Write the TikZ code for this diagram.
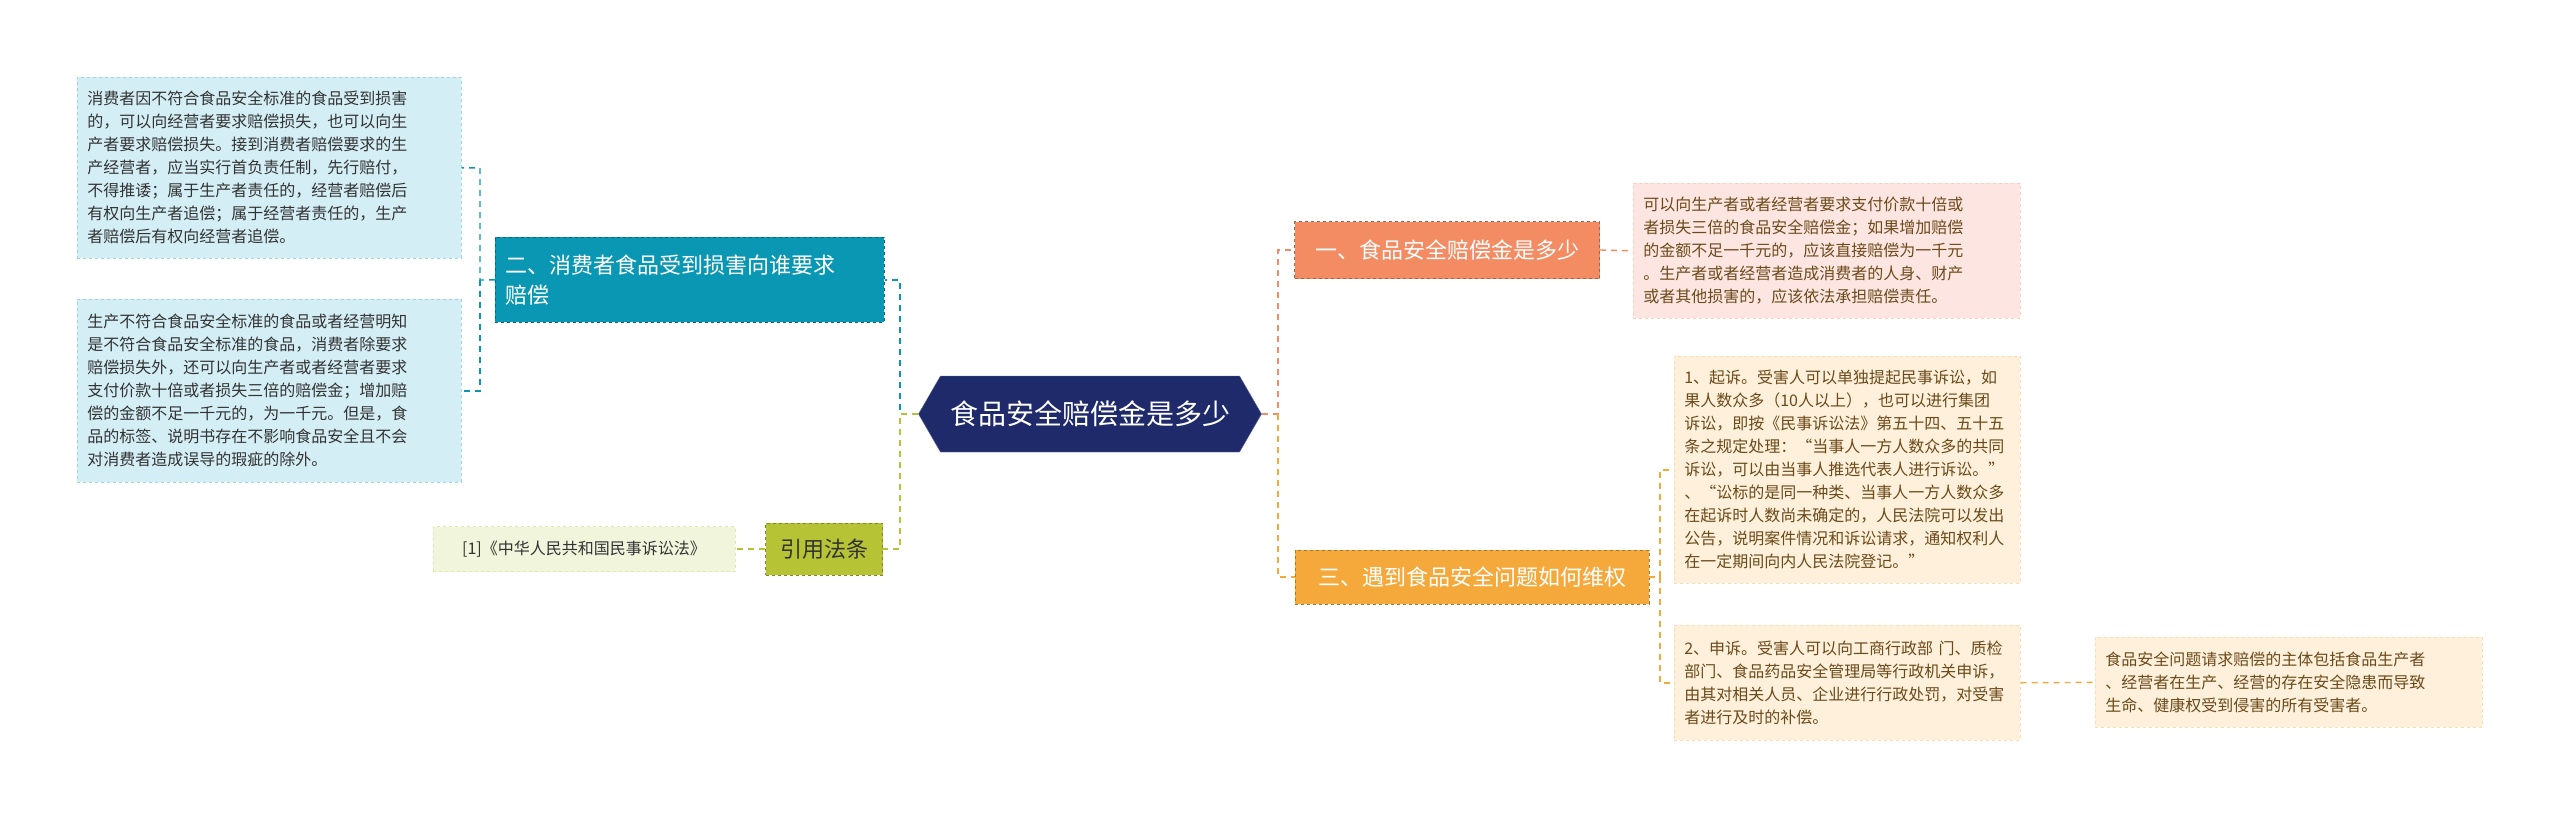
\documentclass[tikz,border=0pt]{standalone}
\usepackage{fontspec}
\setmainfont{Noto Sans CJK SC}
\usetikzlibrary{shapes.symbols}
\definecolor{navy}{HTML}{1F2A6B}
\definecolor{teal}{HTML}{0A97B4}
\definecolor{tealbg}{HTML}{D4EEF5}
\definecolor{olive}{HTML}{B5C334}
\definecolor{olivebg}{HTML}{F0F5DC}
\definecolor{salmon}{HTML}{F38B63}
\definecolor{pinkbg}{HTML}{FDE6E1}
\definecolor{orng}{HTML}{F6A93B}
\definecolor{creambg}{HTML}{FEF0DA}
\definecolor{txt}{HTML}{333333}
\definecolor{brn}{HTML}{6B4A1A}
\begin{document}
\begin{tikzpicture}[x=1pt,y=-1pt,
 leaf/.style={anchor=north west,align=left,inner sep=10pt,font=\fontsize{16}{23}\selectfont,dashed,line width=0.6pt},
 main/.style={align=left,inner sep=10pt,font=\fontsize{22}{30}\selectfont,dashed,line width=0.8pt},
 con/.style={dashed,line width=1.4pt,dash pattern=on 6pt off 5pt}]
\useasboundingbox (0,0) rectangle (2560,817);
% center
\node[signal,signal to=west and east,signal pointer angle=120,fill=navy,draw=navy!70!white,text=white,font=\fontsize{28}{34}\selectfont,minimum width=343pt,minimum height=76pt,inner sep=4pt] (c) at (1090,414) {食品安全赔偿金是多少};
% left
\node[main,fill=teal,draw=teal!70!black,text=white,anchor=north west,text width=369pt,minimum height=85pt] (n2) at (495,237) {二、消费者食品受到损害向谁要求\\赔偿};
\node[leaf,fill=tealbg,draw=teal!40,text=txt,text width=364pt,minimum height=181pt] (l1) at (77,77) {消费者因不符合食品安全标准的食品受到损害\\的，可以向经营者要求赔偿损失，也可以向生\\产者要求赔偿损失。接到消费者赔偿要求的生\\产经营者，应当实行首负责任制，先行赔付，\\不得推诿；属于生产者责任的，经营者赔偿后\\有权向生产者追偿；属于经营者责任的，生产\\者赔偿后有权向经营者追偿。};
\node[leaf,fill=tealbg,draw=teal!40,text=txt,text width=364pt,minimum height=183pt] (l2) at (77,299) {生产不符合食品安全标准的食品或者经营明知\\是不符合食品安全标准的食品，消费者除要求\\赔偿损失外，还可以向生产者或者经营者要求\\支付价款十倍或者损失三倍的赔偿金；增加赔\\偿的金额不足一千元的，为一千元。但是，食\\品的标签、说明书存在不影响食品安全且不会\\对消费者造成误导的瑕疵的除外。};
\node[main,fill=olive,draw=olive!70!black,text=txt,minimum width=117pt,minimum height=52pt,align=center,inner sep=4pt] (yy) at (824,549) {引用法条};
\node[leaf,anchor=center,fill=olivebg,draw=olive!40,text=txt,minimum width=302pt,minimum height=45pt,inner sep=4pt] (law) at (584,549) {[1]《中华人民共和国民事诉讼法》};
% right
\node[main,fill=salmon,draw=salmon!70!black,text=white,minimum width=305pt,minimum height=57pt,align=center,inner sep=4pt] (n1) at (1447,250) {一、食品安全赔偿金是多少};
\node[leaf,fill=pinkbg,draw=salmon!40,text=brn,text width=367pt,minimum height=135pt] (p1) at (1633,183) {可以向生产者或者经营者要求支付价款十倍或\\者损失三倍的食品安全赔偿金；如果增加赔偿\\的金额不足一千元的，应该直接赔偿为一千元\\。生产者或者经营者造成消费者的人身、财产\\或者其他损害的，应该依法承担赔偿责任。};
\node[main,fill=orng,draw=orng!70!black,text=white,minimum width=354pt,minimum height=54pt,align=center,inner sep=4pt] (n3) at (1472,577) {三、遇到食品安全问题如何维权};
\node[leaf,fill=creambg,draw=orng!40,text=brn,text width=326pt,minimum height=227pt] (r1) at (1674,356) {1、起诉。受害人可以单独提起民事诉讼，如\\果人数众多（10人以上），也可以进行集团\\诉讼，即按《民事诉讼法》第五十四、五十五\\条之规定处理：“当事人一方人数众多的共同\\诉讼，可以由当事人推选代表人进行诉讼。”\\、“讼标的是同一种类、当事人一方人数众多\\在起诉时人数尚未确定的，人民法院可以发出\\公告，说明案件情况和诉讼请求，通知权利人\\在一定期间向内人民法院登记。”};
\node[leaf,fill=creambg,draw=orng!40,text=brn,text width=326pt,minimum height=115pt] (r2) at (1674,625) {2、申诉。受害人可以向工商行政部 门、质检\\部门、食品药品安全管理局等行政机关申诉，\\由其对相关人员、企业进行行政处罚，对受害\\者进行及时的补偿。};
\node[leaf,fill=creambg,draw=orng!40,text=brn,text width=367pt,minimum height=90pt] (r3) at (2095,637) {食品安全问题请求赔偿的主体包括食品生产者\\、经营者在生产、经营的存在安全隐患而导致\\生命、健康权受到侵害的所有受害者。};
% connectors
\draw[con,teal] (c.west) -| (900,320) |- (n2.east);
\draw[con,olive] (c.west) -- (900,414) |- (yy.east);
\draw[con,olive] (yy.west) -- (law.east);
\draw[con,teal] (n2.west) -- (480,280) |- (l1.east);
\draw[con,teal] (480,280) |- (l2.east);
\draw[con,salmon] (c.east) -- (1278,414) |- (n1.west);
\draw[con,orng] (1278,414) |- (n3.west);
\draw[con,salmon] (n1.east) -- (p1.west);
\draw[con,orng] (n3.east) -- (1660,577) |- (r1.west);
\draw[con,orng] (1660,577) |- (r2.west);
\draw[con,orng] (r2.east) -- (r3.west);
\end{tikzpicture}
\end{document}
